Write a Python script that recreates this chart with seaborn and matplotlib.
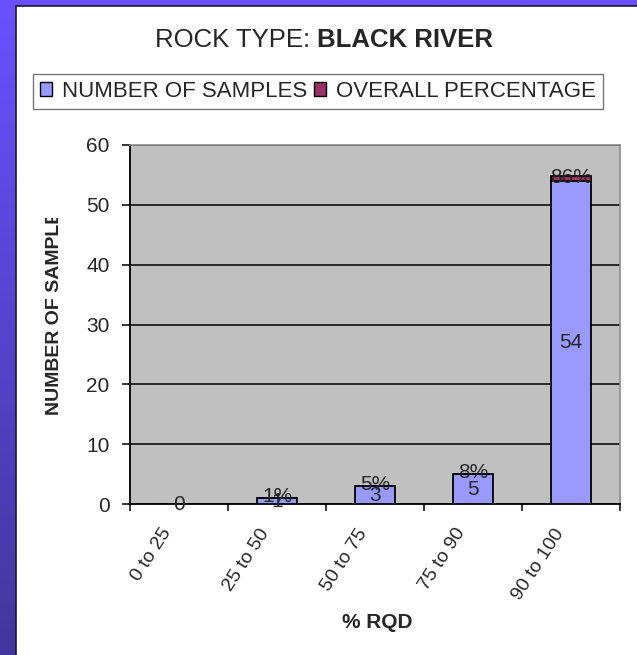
import numpy as np
import matplotlib
matplotlib.use("Agg")
import matplotlib.pyplot as plt
from matplotlib.patches import Patch, Rectangle
from matplotlib.transforms import Bbox, IdentityTransform, TransformedBbox, ScaledTranslation
import seaborn as sns

# RQD classes, sample counts per class and each class's share of all samples
categories = ["0 to 25", "25 to 50", "50 to 75", "75 to 90", "90 to 100"]
num_samples = [0, 1, 3, 5, 54]
overall_pct = [0, 1, 5, 8, 86]
y_ticks = [0, 10, 20, 30, 40, 50, 60]

W, H = 637, 655
sns.set_theme(style="white")
plt.rcParams["font.family"] = ["Liberation Sans", "DejaVu Sans"]

fig = plt.figure(figsize=(W / 100, H / 100), dpi=100)


def px(x, y):
    return x / W, 1 - y / H


# purple slide backdrop with a white chart panel on top
bg = fig.add_axes([0, 0, 1, 1], zorder=-10)
grad = np.linspace(0, 1, 256).reshape(-1, 1)
top_c = np.array([0x6B, 0x50, 0xFF]) / 255
bot_c = np.array([0x44, 0x36, 0x9C]) / 255
img = top_c[None, None, :] * (1 - grad[..., None]) + bot_c[None, None, :] * grad[..., None]
bg.imshow(img, aspect="auto", extent=[0, W, H, 0])
bg.add_patch(Rectangle((16, 6), W - 16 + 5, H - 6 + 5, facecolor="white",
                       edgecolor="#1a1a3a", linewidth=1.2))
bg.set_xlim(0, W)
bg.set_ylim(H, 0)
bg.axis("off")

ax = fig.add_axes([130 / W, 151 / H, 490 / W, 359 / H])
ax.set_facecolor("#C0C0C0")

sns.barplot(x=categories, y=num_samples, color="#9999FF", saturation=1,
            edgecolor="black", linewidth=1.3, width=0.4, ax=ax, zorder=3)
pct_height = [p / 100 for p in overall_pct]
sns.barplot(x=categories, y=pct_height, bottom=num_samples, color="#993366",
            saturation=1, edgecolor="black", linewidth=1.3, width=0.4, ax=ax, zorder=3)

# value labels
for i, (n, p) in enumerate(zip(num_samples, overall_pct)):
    ax.text(i, n / 2, str(n), ha="center", va="center", fontsize=15, zorder=5)
    if p > 0:
        ax.text(i, n + p / 200 + 0.2, f"{p}%", ha="center", va="center",
                fontsize=15, zorder=5)

ax.set_xlim(-0.5, len(categories) - 0.5)
ax.set_ylim(0, 60)
ax.set_yticks(y_ticks)
ax.set_yticklabels([str(t) for t in y_ticks])
ax.yaxis.grid(True, color="black", linewidth=1.1, zorder=0)
ax.set_axisbelow(True)

# category names, slanted and set slightly left of each bar's centre
ax.set_xticks(range(len(categories)))
ax.set_xticklabels([])
label_offset = ScaledTranslation(-11 / 100, -26 / 100, fig.dpi_scale_trans)
for i, c in enumerate(categories):
    ax.text(i, 0, c, transform=ax.get_xaxis_transform() + label_offset,
            rotation=57, ha="right", va="center", rotation_mode="anchor",
            fontsize=14, clip_on=False)
ax.set_xticks(np.arange(-0.5, len(categories), 1.0), minor=True)
ax.tick_params(axis="x", which="major", length=0)
ax.tick_params(axis="x", which="minor", length=5, width=1.1, color="black",
               direction="out", bottom=True)
ax.tick_params(axis="y", length=5.8, width=1.1, color="black", direction="out",
               left=True, labelsize=15, pad=9)
ax.set_xlabel("")
ax.set_ylabel("")

for s in ["left", "bottom"]:
    ax.spines[s].set_color("black")
    ax.spines[s].set_linewidth(1.3)
for s in ["top", "right"]:
    ax.spines[s].set_color("#8c8c8c")
    ax.spines[s].set_linewidth(1.2)

# titles and axis captions
fig.text(*px(310, 40), "ROCK TYPE:", ha="right", va="center", fontsize=18.5)
fig.text(*px(317, 40), "BLACK RIVER", ha="left", va="center", fontsize=18.5,
         fontweight="bold")
fig.text(*px(377, 622), "% RQD", ha="center", va="center", fontsize=15,
         fontweight="bold")
yl = fig.text(*px(55, 306), "NUMBER OF SAMPLES", ha="center", va="center",
              rotation=90, fontsize=14, fontweight="bold")
yl.set_clip_box(TransformedBbox(Bbox.from_extents(0, 0, W, H - 218), IdentityTransform()))
yl.set_clip_on(True)

handles = [Patch(facecolor="#9999FF", edgecolor="black", linewidth=1),
           Patch(facecolor="#993366", edgecolor="black", linewidth=1)]
leg = fig.legend(handles, ["NUMBER OF SAMPLES", "OVERALL PERCENTAGE"],
                 loc="center", bbox_to_anchor=px(318, 91.5), ncol=2,
                 fontsize=16, frameon=True, fancybox=False,
                 handlelength=0.55, handleheight=0.55, handletextpad=0.45,
                 columnspacing=0.3, borderpad=0.3, borderaxespad=0)
leg.get_frame().set_edgecolor("#555555")
leg.get_frame().set_linewidth(1)

fig.savefig("out.png", dpi=100)
